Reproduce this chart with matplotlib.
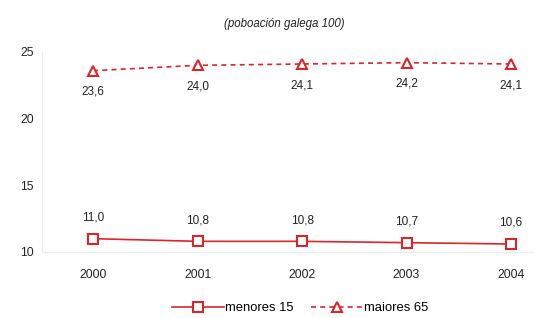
import matplotlib
matplotlib.use("Agg")
import matplotlib.pyplot as plt
from matplotlib.lines import Line2D

plt.rcParams["font.family"] = ["Liberation Sans", "DejaVu Sans"]

anos = [2000, 2001, 2002, 2003, 2004]
menores = [11.0, 10.8, 10.8, 10.7, 10.6]
maiores = [23.6, 24.0, 24.1, 24.2, 24.1]
yticks = [10, 15, 20, 25]
red = "#d7262c"

fig = plt.figure(figsize=(5.34, 3.18), dpi=100)
ax = fig.add_axes([42/534, 1 - 252/318, 1 - 42/534, 200/318])

ax.plot(anos, menores, color=red, lw=1.2, marker="s", ms=7, mfc="white", mec=red, mew=1.5)
ax.plot(anos, maiores, color=red, lw=1.2, ls=(0, (3, 2.5)), marker="^", ms=7, mfc="white", mec=red, mew=1.5)

for x, v in zip(anos, menores):
    ax.annotate(f"{v:.1f}".replace(".", ","), (x, v), xytext=(0, 11), textcoords="offset points",
                ha="center", va="bottom", fontsize=8.5, color="#222222")
for x, v in zip(anos, maiores):
    ax.annotate(f"{v:.1f}".replace(".", ","), (x, v), xytext=(0, -11), textcoords="offset points",
                ha="center", va="top", fontsize=8.5, color="#222222")

ax.set_xlim(1999.51, 2004 + 23/104.5)
ax.set_ylim(10, 25)
ax.set_xticks(anos)
ax.set_yticks(yticks)
ax.tick_params(length=0, labelsize=8.7, colors="#222222")
ax.tick_params(axis="x", pad=12)
ax.tick_params(axis="y", pad=6)
for s in ["top", "right"]:
    ax.spines[s].set_visible(False)
for s in ["left", "bottom"]:
    ax.spines[s].set_color("#ececec")
    ax.spines[s].set_linewidth(0.8)

fig.text(284/534, 1 - 24/318, "(poboación galega 100)", ha="center", va="center",
         fontsize=8.3, style="italic", color="#222222")

handles = [
    Line2D([], [], color=red, lw=1.2, marker="s", ms=7, mfc="white", mec=red, mew=1.5),
    Line2D([], [], color=red, lw=1.2, ls=(0, (3, 2.5)), marker="^", ms=7, mfc="white", mec=red, mew=1.5),
]
fig.legend(handles, ["menores 15", "maiores 65"], loc="center", bbox_to_anchor=(300/534, 1 - 308/318),
           ncol=2, frameon=False, fontsize=9.4, handlelength=4.0, handletextpad=0.1, columnspacing=1.3)

fig.savefig("out.png", dpi=100)
